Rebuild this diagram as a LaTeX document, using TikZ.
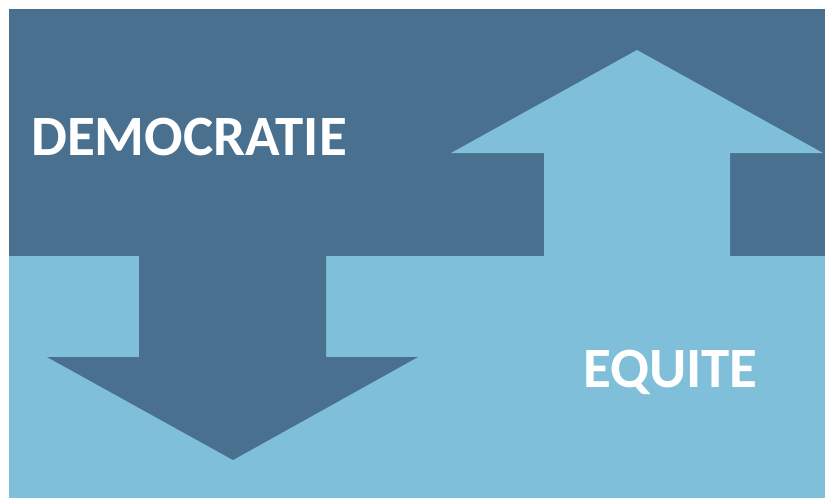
\documentclass[tikz,border=0pt]{standalone}
\usepackage{fontspec}
\setmainfont{Carlito}
\definecolor{darkb}{HTML}{49708F}
\definecolor{lightb}{HTML}{7FBFDA}
\tikzset{lbl/.style={text=white, font=\bfseries\fontsize{57}{57}\selectfont, inner sep=0pt, anchor=base west}}
\begin{document}
\begin{tikzpicture}[x=1pt,y=-1pt]
\useasboundingbox (0,0) rectangle (825,498);
\fill[white] (0,0) rectangle (825,498);
% light lower part
\fill[lightb] (9,256) rectangle (825,498);
% dark upper part
\fill[darkb] (9,9) rectangle (825,256);
% down arrow (dark)
\fill[darkb] (139,255) -- (139,357) -- (47,357) -- (233,460) -- (418,357) -- (326,357) -- (326,255) -- cycle;
% up arrow (light)
\fill[lightb] (544,257) -- (544,153) -- (451,153) -- (637,50) -- (823,153) -- (730,153) -- (730,257) -- cycle;
\node[lbl] (dem) at (31,155) {DEMOCRATIE};
\node[lbl] (equ) at (583,387) {EQUITE};
\end{tikzpicture}
\end{document}
